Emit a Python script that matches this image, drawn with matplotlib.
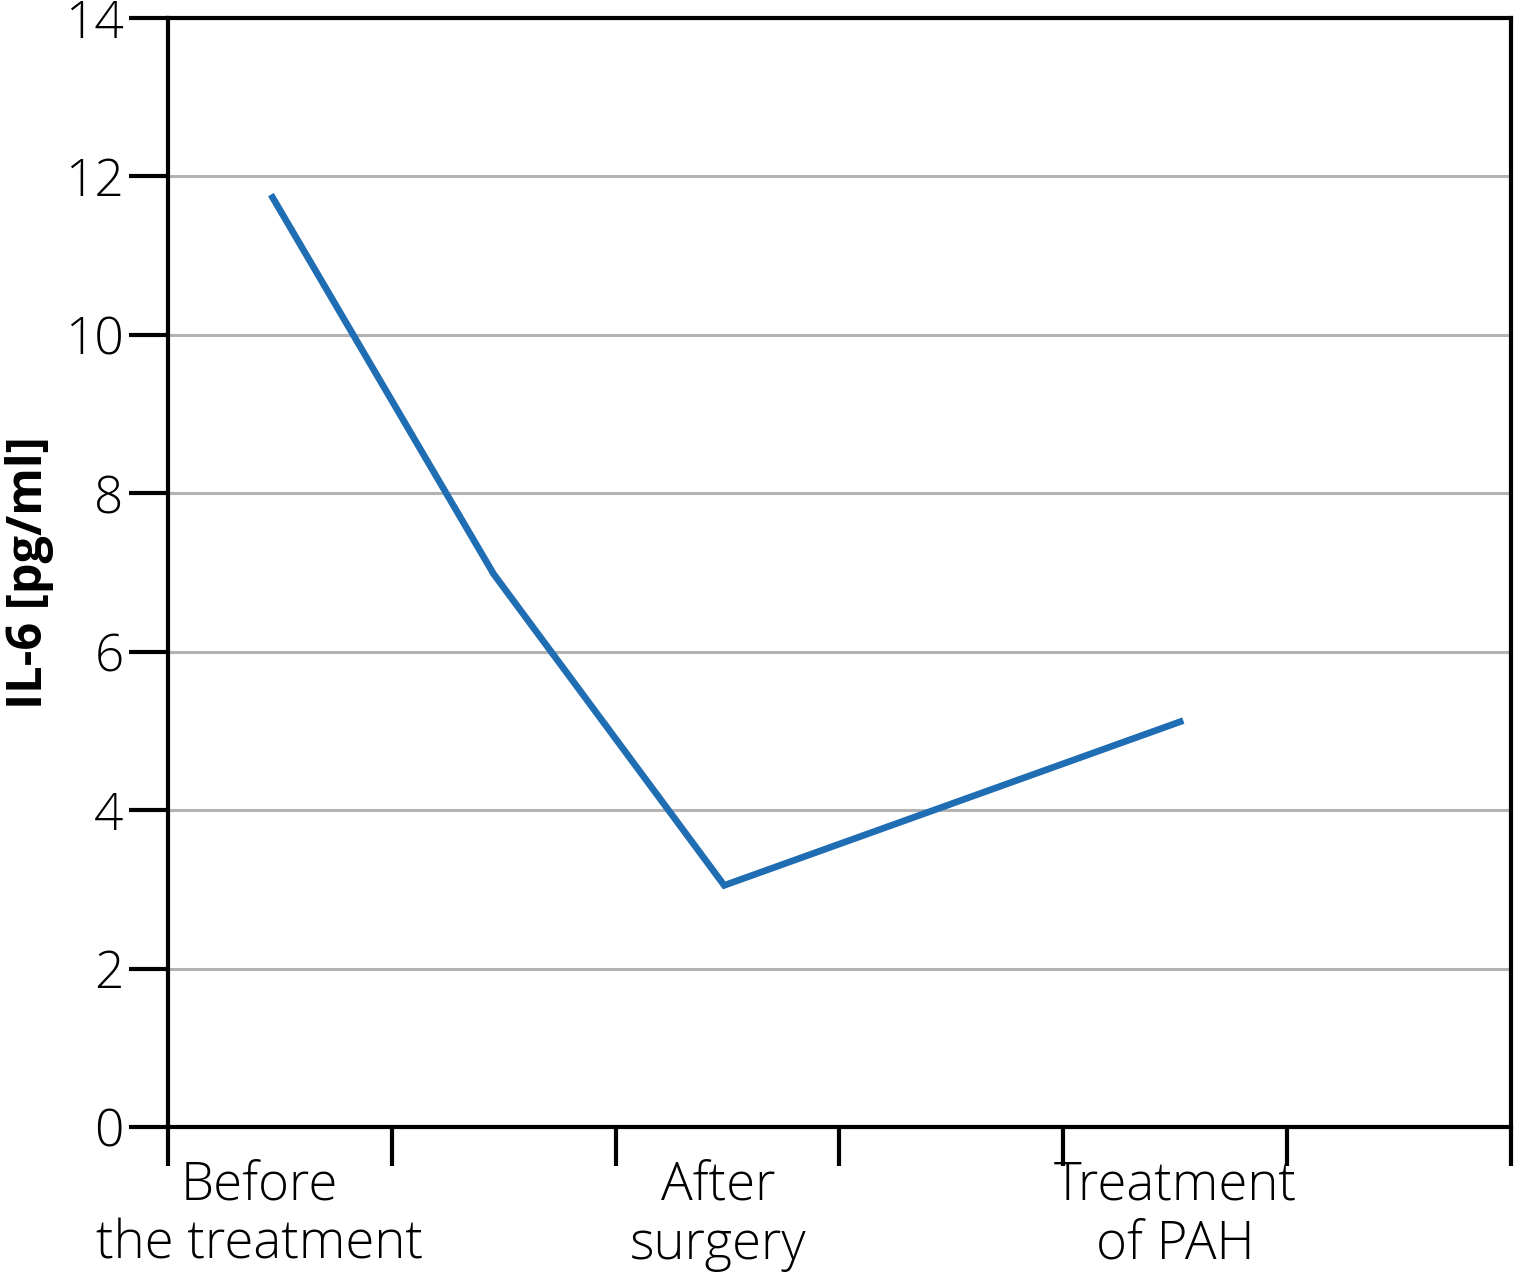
import matplotlib.pyplot as plt

# readings (x in tick-interval units, 0..6)
point_x = [0.46, 1.455, 2.485, 4.536]
il6 = [11.77, 6.98, 3.05, 5.13]
label_x = [0.41, 2.46, 4.50]
labels = ["Before\nthe treatment", "After\nsurgery", "Treatment\nof PAH"]
yticks = [0, 2, 4, 6, 8, 10, 12, 14]

plt.rcParams['font.family'] = ['Open Sans', 'DejaVu Sans']

fig = plt.figure(figsize=(15.16, 12.76), dpi=100)
ax = fig.add_axes([0.1108, 0.1168, 0.8859, 0.8691])

ax.plot(point_x, il6, color="#1f6db3", lw=4.8, solid_joinstyle="miter",
        solid_capstyle="butt", zorder=3)

ax.set_xlim(0, 6)
ax.set_ylim(0, 14)
ax.set_yticks(yticks)
ax.set_xticks(range(7))
ax.set_xticklabels([])
ax.yaxis.grid(True, color="#b3b3b3", lw=2.2)
ax.set_axisbelow(True)

for s in ax.spines.values():
    s.set_linewidth(3)
ax.tick_params(axis="both", length=28, width=3, color="black")
ax.tick_params(axis="y", labelsize=37, pad=4)
for t in ax.get_yticklabels():
    t.set_fontweight(300)

for x, t in zip(label_x, labels):
    ax.text(x, -0.40, t, ha="center", va="top", fontsize=38, fontweight=300,
            linespacing=1.15, transform=ax.transData)

ax.set_ylabel("IL-6 [pg/ml]", fontsize=35, fontweight="bold", va="center")
ax.yaxis.set_label_coords(-0.103, 0.5)

fig.savefig("out.png", dpi=100)
